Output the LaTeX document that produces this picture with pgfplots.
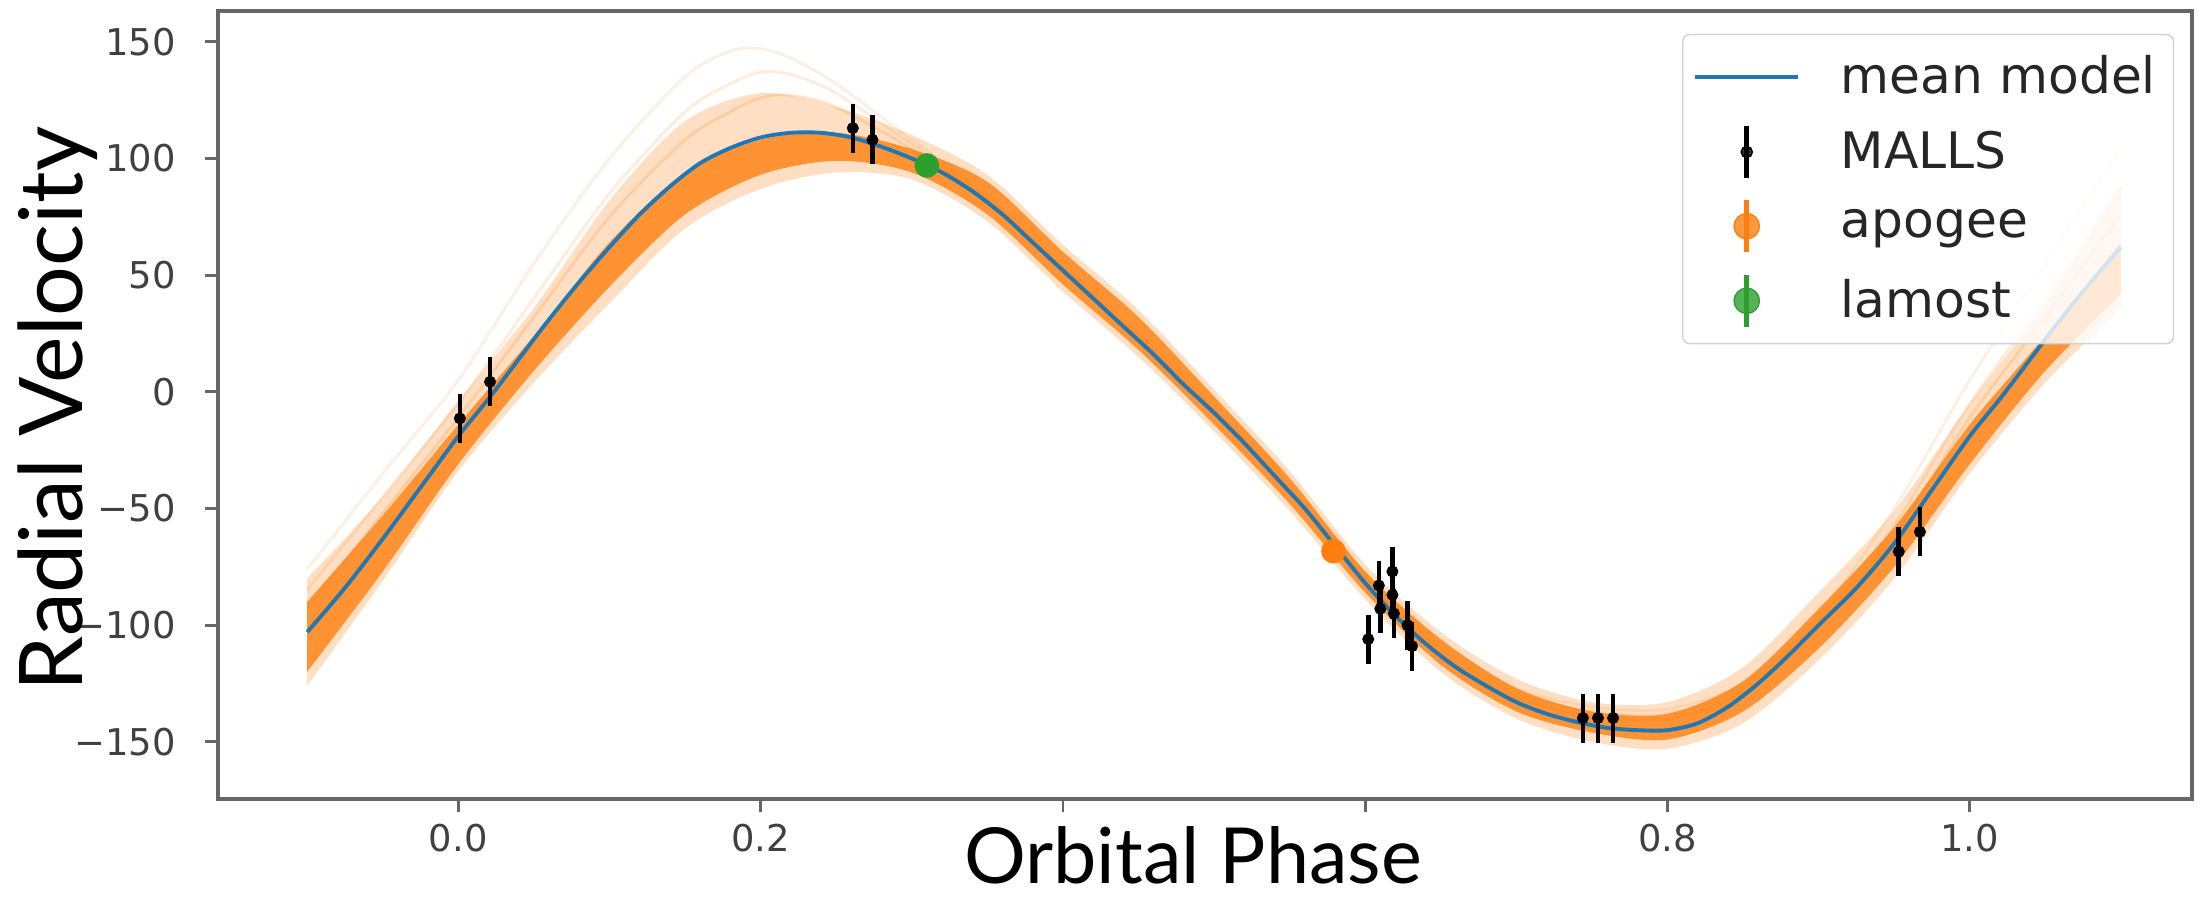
\documentclass[border=0pt]{standalone}
\usepackage{fontspec}
\setmainfont{DejaVu Sans}
\newfontfamily\labelfont{Lato}
\usepackage{pgfplots}
\usepackage{pgfplotstable}
\pgfplotsset{compat=1.18}
\usepgfplotslibrary{fillbetween}
\definecolor{mplblue}{HTML}{1F77B4}
\definecolor{mplorange}{HTML}{FF7F0E}
\definecolor{mplgreen}{HTML}{2CA02C}

\pgfplotstableread{
x y
-0.100 -103
-0.075 -84
-0.050 -63
-0.025 -41
0.000 -19
0.020 -3
0.040 14
0.060 31
0.080 47
0.100 62
0.120 76
0.140 88
0.160 98
0.180 104.5
0.200 109
0.220 111
0.240 111
0.260 109
0.280 105
0.300 100
0.320 94
0.340 86
0.360 76
0.380 64
0.400 52
0.420 40
0.440 28
0.460 16
0.480 3
0.500 -9
0.520 -22
0.540 -36
0.560 -50
0.580 -66
0.600 -82
0.620 -96
0.640 -108
0.660 -118
0.680 -126
0.700 -133
0.720 -138
0.740 -141.5
0.760 -144
0.780 -145
0.800 -145
0.820 -142
0.840 -135
0.860 -125
0.880 -113
0.900 -100
0.925 -84
0.950 -65
0.975 -42
1.000 -19
1.020 -3
1.040 14
1.060 31
1.080 47
1.100 62
}\meanmodel

\pgfplotstableread{
x lo hi
-0.10 -120 -90
-0.05 -77 -53
0.00 -31 -14
0.05 9 24
0.10 45 64
0.15 76 94
0.20 93 108
0.25 99 111
0.30 94 104
0.35 76 90
0.40 46 60
0.45 18 32
0.50 -14 -2
0.55 -48 -37
0.60 -86 -77
0.65 -117 -106
0.70 -137 -127
0.75 -146 -137
0.80 -149 -138
0.85 -137 -124
0.90 -110 -93
0.95 -75 -58
1.00 -31 -14
1.05 9 24
1.10 42 64
}\coreband

\pgfplotstableread{
x lo hi
-0.10 -126 -80
-0.05 -81 -45
0.00 -34 -4
0.05 4 36
0.10 38 82
0.15 70 116
0.20 87 128
0.25 94 122
0.30 91 110
0.35 73 93
0.40 43 63
0.45 15 35
0.50 -17 1
0.55 -51 -34
0.60 -89 -74
0.65 -120 -103
0.70 -140 -123
0.75 -150 -133
0.80 -153 -133
0.85 -142 -118
0.90 -115 -86
0.95 -80 -51
1.00 -35 -5
1.05 4 38
1.10 36 88
}\outerband

\pgfplotstableread{
x a b c
-0.10 -76 -85 -93
-0.05 -35 -45 -52
0.00 5 -5 -11
0.05 55 40 32
0.10 100 85 75
0.15 135 120 108
0.18 146 132 120
0.20 147 137 126
0.22 143 136 127
0.25 132 128 122
0.30 108 106 104
0.35 84 83 82
0.40 54 53 53
0.45 25 24 23
0.50 -7 -8 -9
0.55 -40 -42 -43
0.60 -78 -79 -80
0.65 -108 -110 -112
0.70 -127 -129 -131
0.75 -135 -137 -139
0.80 -136 -138 -140
0.85 -125 -127 -129
0.90 -96 -98 -100
0.95 -50 -57 -62
1.00 5 -5 -11
1.05 55 40 32
1.10 104 88 76
}\faint

\pgfplotstableread{
x y e
0.001 -11.4 10.5
0.021 4.3 10.5
0.261 113 10.5
0.274 108 10.5
0.602 -106 10.5
0.609 -83 10.5
0.610 -93 10.5
0.618 -77 10.5
0.618 -87 10.5
0.619 -95 10.5
0.628 -100 10.5
0.631 -109 10.5
0.744 -139.8 10.5
0.754 -139.8 10.5
0.764 -139.8 10.5
0.953 -68.5 10.5
0.967 -60 10.5
}\malls

\pgfplotstableread{
x y e
0.579 -68.3 2
}\apogee

\pgfplotstableread{
x y e
0.310 97 2
}\lamost

\begin{document}
\begin{tikzpicture}
\begin{axis}[
  name=ax, at={(0,0)}, anchor=south west,
  scale only axis, width=19.74cm, height=7.88cm,
  xmin=-0.159, xmax=1.147, ymin=-174.5, ymax=163.2,
  axis line style={black!60, line width=0.9pt},
  tick style={black!60, line width=0.8pt},
  tick align=outside, major tick length=1.3mm, tick pos=left,
  xtick={0,0.2,0.4,0.6,0.8,1.0}, xticklabels={0.0,0.2,,,0.8,1.0},
  ytick={-150,-100,-50,0,50,100,150},
  yticklabels={−150,−100,−50,0,50,100,150},
  tick label style={font=\fontsize{10.5}{12}\selectfont, text=black!75},
  yticklabel style={xshift=-1.7mm},
  legend cell align=left,
  legend style={at={(0.991,0.971)}, anchor=north east,
    draw=black!18, rounded corners=2pt, fill=white, fill opacity=0.8, text opacity=1,
    font=\fontsize{14.3}{16}\selectfont, text=black!85,
    row sep=5pt, inner xsep=3pt, inner ysep=4pt,
    /tikz/every odd column/.append style={column sep=9.6pt}},
]
% posterior samples
\addplot[draw=none, name path=outU, forget plot, smooth] table[x=x,y=hi]{\outerband};
\addplot[draw=none, name path=outL, forget plot, smooth] table[x=x,y=lo]{\outerband};
\addplot[mplorange, fill opacity=0.25, forget plot] fill between[of=outU and outL];
\addplot[mplorange, opacity=0.12, line width=0.8pt, smooth, forget plot] table[x=x,y=a]{\faint};
\addplot[mplorange, opacity=0.15, line width=0.8pt, smooth, forget plot] table[x=x,y=b]{\faint};
\addplot[mplorange, opacity=0.2, line width=0.8pt, smooth, forget plot] table[x=x,y=c]{\faint};
\addplot[draw=none, name path=coreU, forget plot, smooth] table[x=x,y=hi]{\coreband};
\addplot[draw=none, name path=coreL, forget plot, smooth] table[x=x,y=lo]{\coreband};
\addplot[mplorange, fill opacity=0.8, forget plot] fill between[of=coreU and coreL];
% mean model
\addplot[mplblue, line width=1.1pt, smooth,
  legend image code/.code={\draw[mplblue, line width=1.1pt] (0cm,0cm) -- (1.03cm,0cm);}]
  table[x=x,y=y]{\meanmodel};
\addlegendentry{mean model}
% MALLS
\addplot[black, only marks, mark=*, mark size=1.5pt,
  legend image code/.code={\draw[black, line width=1.3pt] (0.515cm,-0.26cm) -- (0.515cm,0.26cm);
    \fill[black] (0.515cm,0cm) circle (1.6pt);},
  error bars/.cd, y dir=both, y explicit, error mark=none,
  error bar style={black, line width=1.3pt}]
  table[x=x, y=y, y error=e]{\malls};
\addlegendentry{MALLS}
% apogee
\addplot[mplorange, only marks, mark=*, mark size=3.3pt,
  legend image code/.code={\draw[mplorange, line width=1.3pt] (0.515cm,-0.26cm) -- (0.515cm,0.26cm);
    \fill[mplorange] (0.515cm,0cm) circle (3.6pt);},
  error bars/.cd, y dir=both, y explicit, error mark=none,
  error bar style={mplorange, line width=1.3pt}]
  table[x=x, y=y, y error=e]{\apogee};
\addlegendentry{apogee}
% lamost
\addplot[mplgreen, only marks, mark=*, mark size=3.3pt,
  legend image code/.code={\draw[mplgreen, line width=1.3pt] (0.515cm,-0.26cm) -- (0.515cm,0.26cm);
    \fill[mplgreen] (0.515cm,0cm) circle (3.6pt);},
  error bars/.cd, y dir=both, y explicit, error mark=none,
  error bar style={mplgreen, line width=1.3pt}]
  table[x=x, y=y, y error=e]{\lamost};
\addlegendentry{lamost}
\end{axis}
\node[anchor=base, inner sep=0pt,
  font=\labelfont\fontsize{22}{24}\selectfont] at ([xshift=-1.2mm, yshift=-8.5mm]ax.south) {Orbital Phase};
\node[anchor=base, rotate=90, font=\labelfont\fontsize{25}{28}\selectfont]
  at ([xshift=-13.5mm, yshift=-0.4mm]ax.west) {Radial Velocity};
\pgfresetboundingbox
\path (-2.18cm,-0.99cm) rectangle (19.92cm,7.99cm);
\end{tikzpicture}
\end{document}
